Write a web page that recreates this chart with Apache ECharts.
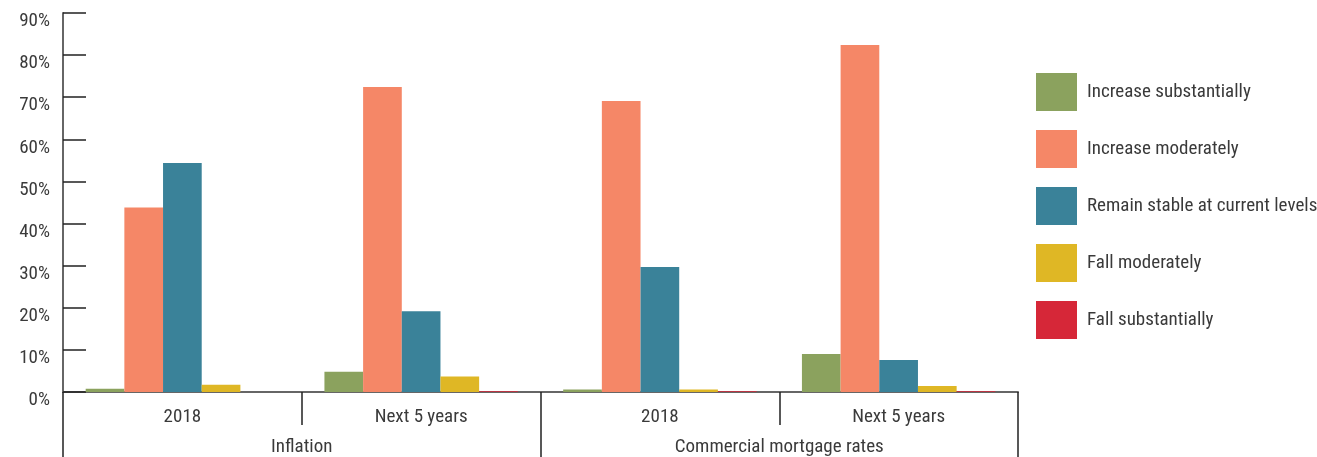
<!DOCTYPE html>
<html>
<head>
<meta charset="utf-8">
<script src="https://cdn.jsdelivr.net/npm/echarts@6/dist/echarts.min.js"></script>
<style>
  html, body { margin: 0; padding: 0; background: #fff; }
  #chart { width: 1317px; height: 457px; }
</style>
</head>
<body>
<div id="chart"></div>
<script>
// categories (inner) and their groups (outer)
const periods = ['2018', 'Next 5 years', '2018', 'Next 5 years'];
const groups = ['Inflation', 'Commercial mortgage rates'];

// percent of respondents, per answer
const increaseSubstantially = [0.8, 4.8, 0.6, 9.0];
const increaseModerately = [43.8, 72.4, 69.1, 82.4];
const remainStable = [54.4, 19.2, 29.7, 7.6];
const fallModerately = [1.7, 3.7, 0.6, 1.4];
const fallSubstantially = [0, 0.2, 0.2, 0.2];

const yTicks = [0, 10, 20, 30, 40, 50, 60, 70, 80, 90];

const FONT = '"Liberation Sans Narrow", "Roboto Condensed", Roboto, sans-serif';
const textColor = '#3a3a3a';

const seriesDefs = [
  { name: 'Increase substantially', data: increaseSubstantially, color: '#8BA25E' },
  { name: 'Increase moderately', data: increaseModerately, color: '#F58767' },
  { name: 'Remain stable at current levels', data: remainStable, color: '#3A8299' },
  { name: 'Fall moderately', data: fallModerately, color: '#DFB725' },
  { name: 'Fall substantially', data: fallSubstantially, color: '#D62738' }
];

const chart = echarts.init(document.getElementById('chart'));

const option = {
  animation: false,
  textStyle: { fontFamily: FONT },
  grid: { left: 63, right: 299, top: 13, bottom: 65 },
  legend: {
    orient: 'vertical',
    left: 1031,
    top: 68,
    itemWidth: 41,
    itemHeight: 38,
    itemGap: 19,
    icon: 'rect',
    textStyle: { fontFamily: FONT, fontSize: 19, color: textColor, padding: [0, 0, 0, 5] },
    data: seriesDefs.map(s => s.name)
  },
  xAxis: [
    {
      type: 'category',
      data: periods,
      axisLine: { lineStyle: { color: '#666', width: 2 } },
      axisTick: { show: true, interval: 0, length: 33, lineStyle: { color: '#222', width: 1.5 } },
      axisLabel: { interval: 0, margin: 16, fontSize: 19, color: textColor, fontFamily: FONT }
    },
    {
      type: 'category',
      data: groups,
      position: 'bottom',
      axisLine: { show: false },
      axisTick: { show: true, interval: 0, length: 66, lineStyle: { color: '#222', width: 1.5 } },
      axisLabel: { interval: 0, margin: 46, fontSize: 19, color: textColor, fontFamily: FONT }
    }
  ],
  yAxis: {
    type: 'value',
    min: yTicks[0],
    max: yTicks[yTicks.length - 1],
    interval: 10,
    axisLine: { show: true, lineStyle: { color: '#666', width: 2 } },
    axisTick: { show: true, inside: true, length: 23, lineStyle: { color: '#222', width: 1.5 } },
    splitLine: { show: false },
    axisLabel: {
      formatter: '{value}%', margin: 13, fontSize: 19, color: textColor, fontFamily: FONT,
      verticalAlign: 'top', lineHeight: 17
    }
  },
  series: seriesDefs.map(s => ({
    name: s.name,
    type: 'bar',
    xAxisIndex: 0,
    data: s.data,
    barGap: 0,
    barCategoryGap: '19%',
    itemStyle: { color: s.color }
  }))
};

chart.setOption(option);
</script>
</body>
</html>
